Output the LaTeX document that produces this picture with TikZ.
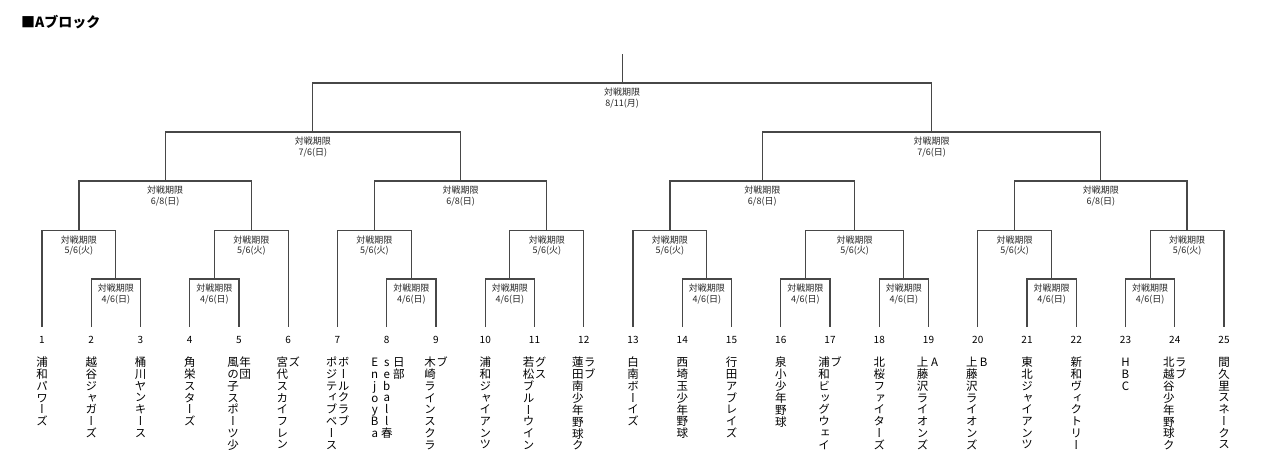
\documentclass[tikz,border=0pt]{standalone}
\usepackage{fontspec}
\newfontfamily\jp{Noto Sans CJK JP}
\newfontfamily\jpv[RawFeature=+vert]{Noto Sans CJK JP}
\usetikzlibrary{calc}

\newcommand\vcol[1]{\vtop{\offinterlineskip\vcolloop#1\relax}}
\def\vcolloop#1{\ifx\relax#1\else\hbox to 12pt{\hss\vrule width0pt height 9.4pt depth 2.3pt\relax#1\hss}\expandafter\vcolloop\fi}

\newcommand\bmatch[5]{%
  \path (#2) -- (#3) coordinate[midway] (#1tmp);
  \coordinate (#1) at (#1tmp |- 0,#4);
  \draw[br] (#2) |- (#1) -| (#3);
  \node[lbl] (#1L) at ([yshift=-5pt]#1) {対戦期限\\#5};
}

\tikzset{
  br/.style={draw=black!72, line width=1.2pt},
  lbl/.style={font=\jp\fontsize{9}{10.5}\selectfont, align=center, anchor=north, inner sep=0pt, text=black!85},
  num/.style={font=\jp\fontsize{10}{12}\selectfont, inner sep=0pt, anchor=center},
  team/.style={font=\jpv\fontsize{11.5}{11.7}\selectfont, inner sep=0pt, anchor=north},
  ttl/.style={font=\jp\bfseries\fontsize{14}{16}\selectfont, inner sep=0pt, anchor=west}
}

\begin{document}
\begin{tikzpicture}[x=1pt,y=-1pt]
\fill[white] (0,0) rectangle (1266,459);
\useasboundingbox (0,0) rectangle (1266,459);

\node[ttl] (title) at (21,22) {■Aブロック};

\foreach \i in {1,...,25} {
  \coordinate (l\i) at ({42+(\i-1)*49.25},327);
  \node[num] (n\i) at ({42+(\i-1)*49.25},340) {\i};
}

\bmatch{m1}{l2}{l3}{279}{4/6(日)}
\bmatch{m2}{l1}{m1}{230.5}{5/6(火)}
\bmatch{m3}{l4}{l5}{279}{4/6(日)}
\bmatch{m4}{m3}{l6}{230.5}{5/6(火)}
\bmatch{m5}{m2}{m4}{181}{6/8(日)}
\bmatch{m6}{l8}{l9}{279}{4/6(日)}
\bmatch{m7}{l7}{m6}{230.5}{5/6(火)}
\bmatch{m8}{l10}{l11}{279}{4/6(日)}
\bmatch{m9}{m8}{l12}{230.5}{5/6(火)}
\bmatch{m10}{m7}{m9}{181}{6/8(日)}
\bmatch{m11}{m5}{m10}{132}{7/6(日)}
\bmatch{r1}{l14}{l15}{279}{4/6(日)}
\bmatch{r2}{l13}{r1}{230.5}{5/6(火)}
\bmatch{r3}{l16}{l17}{279}{4/6(日)}
\bmatch{r4}{l18}{l19}{279}{4/6(日)}
\bmatch{r5}{r3}{r4}{230.5}{5/6(火)}
\bmatch{r6}{r2}{r5}{181}{6/8(日)}
\bmatch{r7}{l21}{l22}{279}{4/6(日)}
\bmatch{r8}{l20}{r7}{230.5}{5/6(火)}
\bmatch{r9}{l23}{l24}{279}{4/6(日)}
\bmatch{r10}{r9}{l25}{230.5}{5/6(火)}
\bmatch{r11}{r8}{r10}{181}{6/8(日)}
\bmatch{r12}{r6}{r11}{132}{7/6(日)}
\bmatch{fin}{m11}{r12}{83}{8/11(月)}
\coordinate (top) at (fin |- 0,54);
\draw[br] (fin) -- (top);

\node[team] (t1) at (l1 |- 0,357) {\vcol{浦和パワーズ}};
\node[team] (t2) at (l2 |- 0,357) {\vcol{越谷ジャガーズ}};
\node[team] (t3) at (l3 |- 0,357) {\vcol{桶川ヤンキース}};
\node[team] (t4) at (l4 |- 0,357) {\vcol{角栄スターズ}};
\node[team] (t5) at (l5 |- 0,357) {\vcol{風の子スポーツ少}\vcol{年団}};
\node[team] (t6) at (l6 |- 0,357) {\vcol{宮代スカイフレン}\vcol{ズ}};
\node[team] (t7) at (l7 |- 0,357) {\vcol{ポジティブベース}\vcol{ボールクラブ}};
\node[team] (t8) at (l8 |- 0,357) {\vcol{EnjoyBa}\vcol{seball春}\vcol{日部}};
\node[team] (t9) at (l9 |- 0,357) {\vcol{木崎ラインスクラ}\vcol{ブ}};
\node[team] (t10) at (l10 |- 0,357) {\vcol{浦和ジャイアンツ}};
\node[team] (t11) at (l11 |- 0,357) {\vcol{若松ブルーウイン}\vcol{グス}};
\node[team] (t12) at (l12 |- 0,357) {\vcol{蓮田南少年野球ク}\vcol{ラブ}};
\node[team] (t13) at (l13 |- 0,357) {\vcol{白南ボーイズ}};
\node[team] (t14) at (l14 |- 0,357) {\vcol{西埼玉少年野球}};
\node[team] (t15) at (l15 |- 0,357) {\vcol{行田アブレイズ}};
\node[team] (t16) at (l16 |- 0,357) {\vcol{泉小少年野球}};
\node[team] (t17) at (l17 |- 0,357) {\vcol{浦和ビッグウェイ}\vcol{ブ}};
\node[team] (t18) at (l18 |- 0,357) {\vcol{北桜ファイターズ}};
\node[team] (t19) at (l19 |- 0,357) {\vcol{上藤沢ライオンズ}\vcol{A}};
\node[team] (t20) at (l20 |- 0,357) {\vcol{上藤沢ライオンズ}\vcol{B}};
\node[team] (t21) at (l21 |- 0,357) {\vcol{東北ジャイアンツ}};
\node[team] (t22) at (l22 |- 0,357) {\vcol{新和ヴィクトリー}};
\node[team] (t23) at (l23 |- 0,357) {\vcol{HBC}};
\node[team] (t24) at (l24 |- 0,357) {\vcol{北越谷少年野球ク}\vcol{ラブ}};
\node[team] (t25) at (l25 |- 0,357) {\vcol{間久里スネークス}};
\end{tikzpicture}
\end{document}
